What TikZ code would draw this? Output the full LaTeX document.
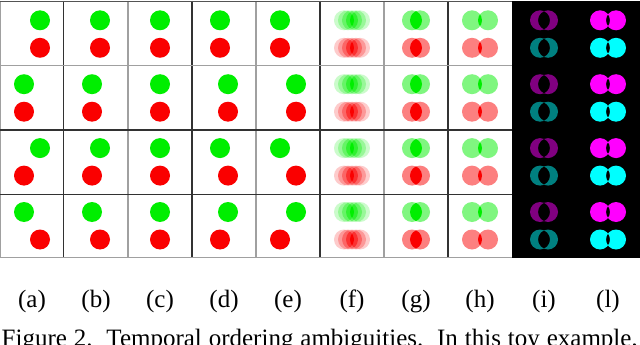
\documentclass[tikz,border=0pt]{standalone}
\usepackage{fontspec}
\setmainfont{Liberation Serif}
\definecolor{gr}{RGB}{0,238,0}
\definecolor{rd}{RGB}{250,0,0}
\definecolor{purp}{RGB}{128,0,128}
\definecolor{tealc}{RGB}{0,128,128}
\definecolor{mag}{RGB}{255,0,255}
\definecolor{cyn}{RGB}{0,255,255}
\definecolor{darkline}{RGB}{50,50,50}
\definecolor{greyline}{RGB}{160,160,160}
\tikzset{
  darkrule/.style={draw=darkline, line width=1.4pt},
  greyrule/.style={draw=greyline, line width=1.3pt},
  sublabel/.style={font=\fontsize{25}{30}\selectfont, inner sep=0pt, anchor=base},
}
\begin{document}
\begin{tikzpicture}[x=1pt,y=-1pt]
\useasboundingbox (0,0) rectangle (640,345);
\fill[white] (0,0) rectangle (640,345);
% columns a-e
\foreach \c in {0,...,4}{
  \foreach \r/\gs/\rs in {0/-1/-1, 1/1/1, 2/-1/1, 3/1/-1}{
    \fill[gr] ({64*\c+32-\gs*(8-4*\c)}, {20.3+63.9*\r}) circle (10);
    \fill[rd] ({64*\c+32-\rs*(8-4*\c)}, {47.8+63.9*\r}) circle (10);
  }
}
% column f: average of five frames
\foreach \k/\op in {0/1, 1/0.5, 2/0.3333, 3/0.25, 4/0.2}{
  \begin{scope}[transparency group, opacity=\op]
    \fill[white] (321,2) rectangle (383,257);
    \foreach \r in {0,...,3}{
      \fill[gr] ({320+24+4*\k}, {20.3+63.9*\r}) circle (10);
      \fill[rd] ({320+24+4*\k}, {47.8+63.9*\r}) circle (10);
    }
  \end{scope}
}
% column g: average of frames 2 and 4
\foreach \k/\op in {0/1, 1/0.5}{
  \begin{scope}[transparency group, opacity=\op]
    \fill[white] (385,2) rectangle (447,257);
    \foreach \r in {0,...,3}{
      \fill[gr] ({384+28+8*\k}, {20.3+63.9*\r}) circle (10);
      \fill[rd] ({384+28+8*\k}, {47.8+63.9*\r}) circle (10);
    }
  \end{scope}
}
% column h: average of frames 1 and 5
\foreach \k/\op in {0/1, 1/0.5}{
  \begin{scope}[transparency group, opacity=\op]
    \fill[white] (449,2) rectangle (511,257);
    \foreach \r in {0,...,3}{
      \fill[gr] ({448+24+16*\k}, {20.3+63.9*\r}) circle (10);
      \fill[rd] ({448+24+16*\k}, {47.8+63.9*\r}) circle (10);
    }
  \end{scope}
}
% columns i and l: differences on black
\fill[black] (512,1) rectangle (640,258);
\foreach \r in {0,...,3}{
  \fill[purp, even odd rule] (540, {20.3+63.9*\r}) circle (10) (548, {20.3+63.9*\r}) circle (10);
  \fill[tealc, even odd rule] (540, {47.8+63.9*\r}) circle (10) (548, {47.8+63.9*\r}) circle (10);
  \fill[mag, even odd rule] (600, {20.3+63.9*\r}) circle (10) (616, {20.3+63.9*\r}) circle (10);
  \fill[cyn, even odd rule] (600, {47.8+63.9*\r}) circle (10) (616, {47.8+63.9*\r}) circle (10);
}
% grid lines
\foreach \x in {0.6,128,256,384}{ \draw[greyrule] (\x,1) -- (\x,257.5); }
\foreach \x in {63.5,192,320,448}{ \draw[darkrule] (\x,1) -- (\x,257.5); }
\foreach \y in {65.5,257.2}{ \draw[greyrule] (0,\y) -- (512,\y); }
\draw[darkline!70!greyline, line width=1.3pt] (0,1.3) -- (512,1.3);
\foreach \y in {130,194.5}{ \draw[darkrule] (0,\y) -- (512,\y); }
% labels
\foreach \n/\t [count=\i from 0] in {la/a, lb/b, lc/c, ld/d, le/e, lf/f, lg/g, lh/h, li/i, ll/l}{
  \node[sublabel] (\n) at ({64*\i+32}, 307.2) {(\t)};
}
\node[font=\fontsize{25}{30}\selectfont, inner sep=0pt, anchor=base west] (cap) at (1.5,346.5)
  {\makebox[636pt][s]{Figure 2.\ \ Temporal ordering ambiguities.\ \ In this toy example,}};
\end{tikzpicture}
\end{document}
